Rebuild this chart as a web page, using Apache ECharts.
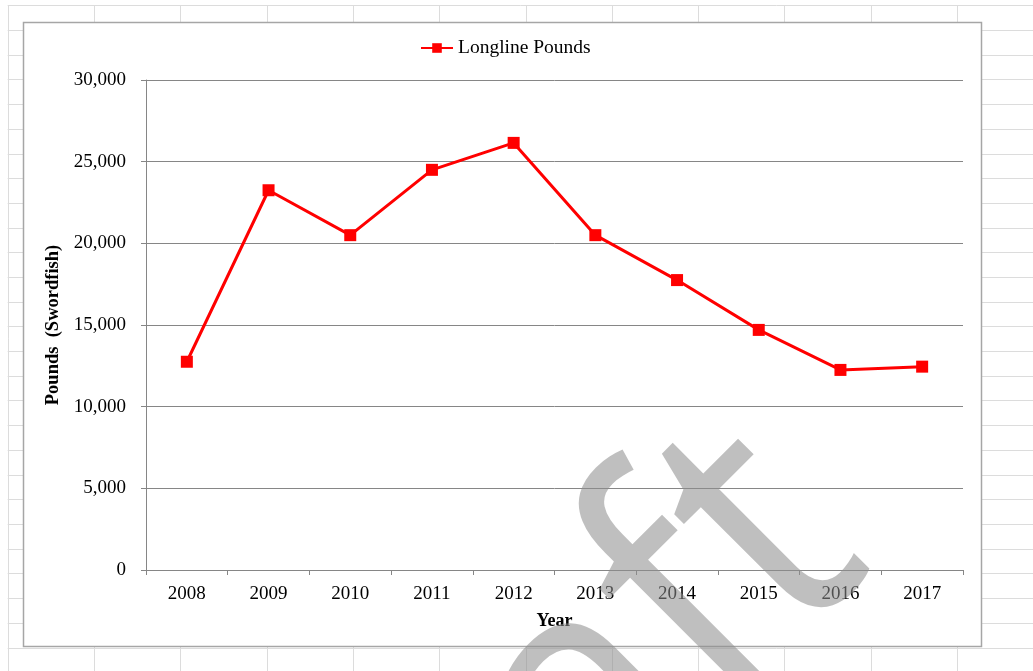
<!DOCTYPE html>
<html>
<head>
<meta charset="utf-8">
<script src="https://cdn.jsdelivr.net/npm/echarts@6/dist/echarts.min.js"></script>
<style>
html,body{margin:0;padding:0;background:#fff;}
#chart{width:1033px;height:671px;}
</style>
</head>
<body>
<div id="chart"></div>
<script>
// ---- data ----
var years = ['2008','2009','2010','2011','2012','2013','2014','2015','2016','2017'];
var longlinePounds = [12750, 23250, 20500, 24500, 26150, 20500, 17750, 14700, 12250, 12450];
var seriesName = 'Longline Pounds';
var yTicks = [0, 5000, 10000, 15000, 20000, 25000, 30000];
var watermarkText = 'Draft';

// ---- background (spreadsheet cells) ----
var W = 1033, H = 671;
var bg = [];
var colStep = 86.3, col0 = 7.7, rowStep = 24.7, row0 = 5.3;
for (var x = col0; x < W; x += colStep) {
  bg.push({type:'line', z:-10, silent:true, shape:{x1:Math.round(x)+0.5, y1:row0, x2:Math.round(x)+0.5, y2:H},
    style:{stroke:'#dcdcdc', lineWidth:1}});
}
for (var y = row0; y < H; y += rowStep) {
  bg.push({type:'line', z:-10, silent:true, shape:{x1:col0, y1:Math.round(y)+0.5, x2:W, y2:Math.round(y)+0.5},
    style:{stroke:'#dcdcdc', lineWidth:1}});
}
// chart area
bg.push({type:'rect', z:-5, silent:true, shape:{x:23.5, y:22.5, width:958, height:624},
  style:{fill:'#ffffff', stroke:'#a6a6a6', lineWidth:1.5}});

// watermark: size/placement derived from font metrics so that the final "t"
// sits where it is in the picture (rotated 45 degrees, slightly condensed)
var wmFont = 'Open Sans';
var wmCondense = 0.9;
var cv = document.createElement('canvas').getContext('2d');
cv.font = '100px "' + wmFont + '"';
cv.textBaseline = 'alphabetic';
var mt = cv.measureText('t');
var wmSize = 100 * 237 / (mt.actualBoundingBoxAscent + mt.actualBoundingBoxDescent);
cv.font = wmSize + 'px "' + wmFont + '"';
var tDesc = cv.measureText('t').actualBoundingBoxDescent;
cv.textBaseline = 'middle';
var baseOff = cv.measureText('H').actualBoundingBoxDescent;
cv.textAlign = 'right';
var inkRight = cv.measureText(watermarkText).actualBoundingBoxRight;
var vBase = -1024 + tDesc;
var vMid = vBase + baseOff;
var uAnchor = 216 - inkRight * wmCondense;
var s2 = Math.SQRT2;
bg.push({type:'text', z:100, silent:true, x:(uAnchor - vMid)/s2, y:(-uAnchor - vMid)/s2,
  rotation:Math.PI/4, scaleX:wmCondense, scaleY:1,
  style:{text:watermarkText, font:wmSize + 'px "' + wmFont + '"', fill:'rgba(140,140,140,0.56)',
    align:'right', verticalAlign:'middle', textAlign:'right', textVerticalAlign:'middle'}});

var serif = '"Liberation Serif", "Times New Roman", serif';
var chart = echarts.init(document.getElementById('chart'), null, {renderer:'canvas'});
chart.setOption({
  animation:false,
  backgroundColor:'#ffffff',
  graphic:{elements:bg},
  legend:{
    data:[seriesName], left:420, top:38, padding:0, itemWidth:32, itemHeight:12, itemGap:4,
    textStyle:{fontFamily:serif, fontSize:19.5, color:'#000'}
  },
  grid:{left:146, top:80, right:70, bottom:101, containLabel:false},
  xAxis:{
    type:'category', data:years, boundaryGap:true,
    name:'Year', nameLocation:'middle', nameGap:42,
    nameTextStyle:{fontFamily:serif, fontSize:18, fontWeight:'bold', color:'#000'},
    axisLine:{lineStyle:{color:'#868686', width:1}},
    axisTick:{show:true, length:5, inside:false, alignWithLabel:false, lineStyle:{color:'#868686'}},
    axisLabel:{fontFamily:serif, fontSize:19, color:'#000', margin:15},
    splitLine:{show:false}
  },
  yAxis:{
    type:'value', min:yTicks[0], max:yTicks[yTicks.length-1], interval:5000,
    name:'Pounds  (Swordfish)', nameLocation:'middle', nameGap:67, nameRotate:90,
    nameTextStyle:{fontFamily:serif, fontSize:18.5, fontWeight:'bold', color:'#000'},
    axisLine:{show:true, lineStyle:{color:'#868686', width:1}},
    axisTick:{show:true, length:5, lineStyle:{color:'#868686'}},
    axisLabel:{fontFamily:serif, fontSize:19, color:'#000', margin:20,
      formatter:function(v){return v.toLocaleString('en-US');}},
    splitLine:{show:true, lineStyle:{color:'#868686', width:1}}
  },
  series:[{
    name:seriesName, type:'line', data:longlinePounds,
    symbol:'rect', symbolSize:12,
    lineStyle:{color:'#ff0000', width:3},
    itemStyle:{color:'#ff0000'}
  }]
});
</script>
</body>
</html>
